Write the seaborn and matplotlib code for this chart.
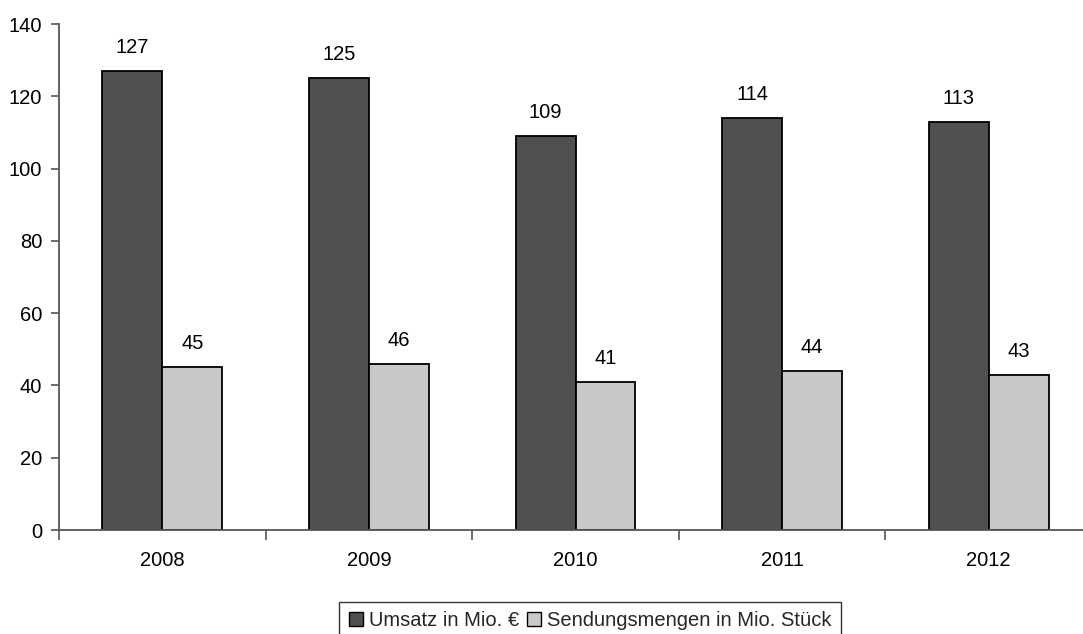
import matplotlib
matplotlib.use("Agg")
import matplotlib.pyplot as plt
import seaborn as sns
import pandas as pd
from matplotlib.patches import Patch
from matplotlib.ticker import FixedLocator, NullFormatter

years = ["2008", "2009", "2010", "2011", "2012"]
umsatz = [127, 125, 109, 114, 113]
sendungen = [45, 46, 41, 44, 43]
series_names = ["Umsatz in Mio. €", "Sendungsmengen in Mio. Stück"]
y_ticks = [0, 20, 40, 60, 80, 100, 120, 140]

colors = ["#505050", "#c8c8c8"]

df = pd.DataFrame({
    "Jahr": years * 2,
    "Wert": umsatz + sendungen,
    "Serie": [series_names[0]] * len(years) + [series_names[1]] * len(years),
})

sns.set_theme(style="white")
plt.rcParams["font.family"] = ["Liberation Sans", "DejaVu Sans"]

FS = 14.5

fig = plt.figure(figsize=(10.83, 6.34), dpi=100)
ax = fig.add_axes([59 / 1083, 104 / 634, 1033 / 1083, 506 / 634])

sns.barplot(data=df, x="Jahr", y="Wert", hue="Serie", order=years,
            hue_order=series_names, palette=colors, width=0.58,
            edgecolor="black", linewidth=1.3, saturation=1,
            errorbar=None, legend=False, ax=ax)

ax.set_xlim(-0.5, len(years) - 0.5)
ax.set_ylim(0, 140)
ax.set_yticks(y_ticks)
ax.set_xlabel("")
ax.set_ylabel("")

# category separators as downward ticks on the x axis
ax.xaxis.set_minor_locator(FixedLocator([i + 0.5 for i in range(-1, len(years))]))
ax.xaxis.set_minor_formatter(NullFormatter())
ax.tick_params(axis="x", which="major", length=0, pad=15, labelsize=FS, colors="black")
ax.tick_params(axis="x", which="minor", length=7, width=1.2, color="#555555", bottom=True)
ax.tick_params(axis="y", which="major", length=6, width=1.2, color="#555555",
               labelsize=FS, labelcolor="black", left=True, pad=6)

for side in ("top", "right"):
    ax.spines[side].set_visible(False)
for side in ("left", "bottom"):
    ax.spines[side].set_color("#555555")
    ax.spines[side].set_linewidth(1.3)

for container in ax.containers:
    ax.bar_label(container, labels=[f"{v:g}" for v in container.datavalues],
                 padding=10, fontsize=FS, color="black")

handles = [Patch(facecolor=c, edgecolor="black", linewidth=1.0) for c in colors]
leg = fig.legend(handles, series_names, loc="upper center",
                 bbox_to_anchor=(590 / 1083, 1 - 602 / 634), ncol=2,
                 frameon=True, fancybox=False, edgecolor="black",
                 fontsize=FS, handlelength=0.7, handleheight=0.7,
                 handletextpad=0.3, columnspacing=0.4, borderpad=0.45,
                 borderaxespad=0)
leg.get_frame().set_linewidth(1.0)

fig.savefig("out.png", dpi=100)
